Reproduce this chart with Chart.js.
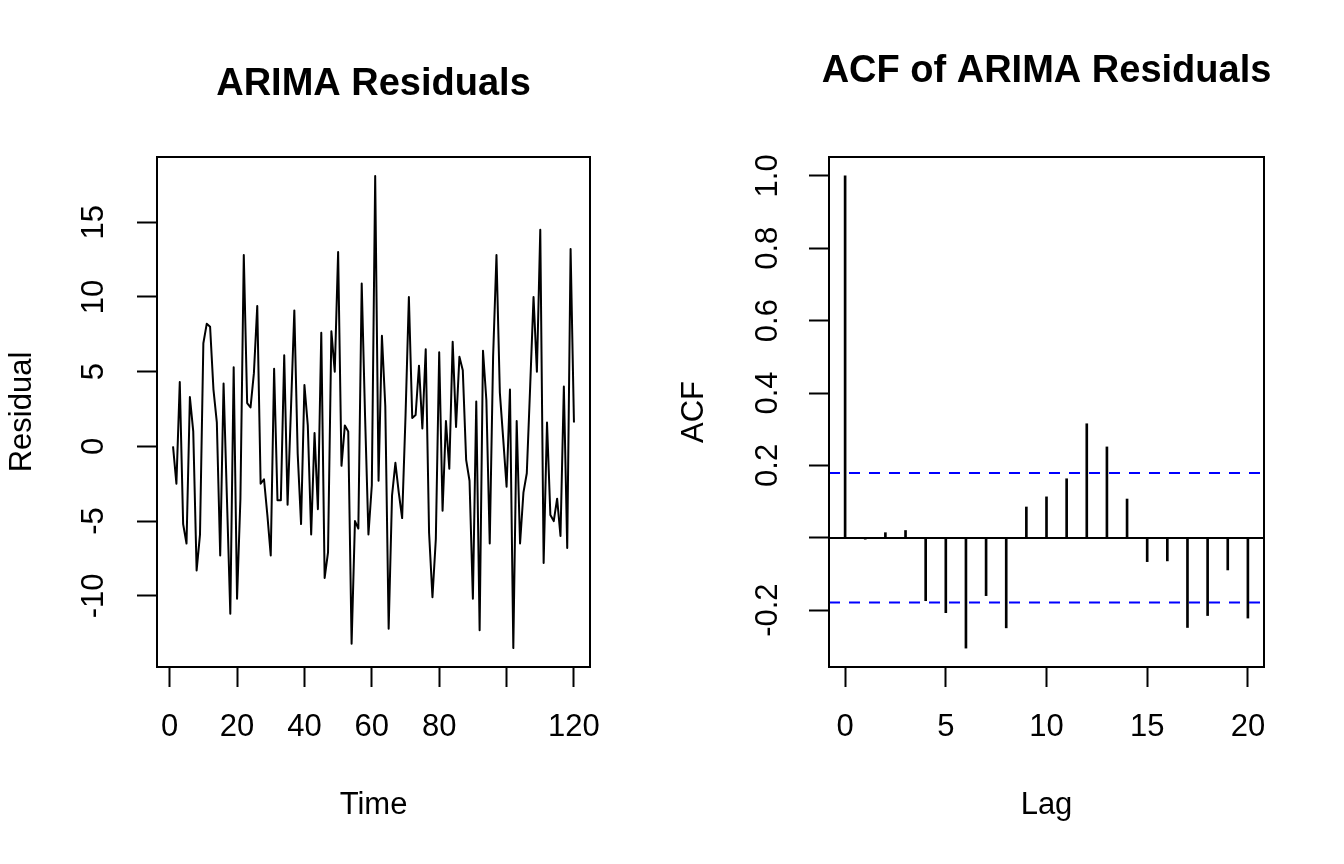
<!DOCTYPE html>
<html>
<head>
<meta charset="utf-8">
<title>ARIMA Residuals</title>
<script src="https://cdn.jsdelivr.net/npm/chart.js@4.4.1/dist/chart.umd.min.js"></script>
<style>
  html, body { margin: 0; padding: 0; background: #fff; }
  .panel { position: absolute; top: 0; width: 672px; height: 864px; }
  #left { left: 0; }
  #right { left: 672px; }
</style>
</head>
<body>
<div class="panel" id="left"><canvas id="residPlot" width="672" height="864"></canvas></div>
<div class="panel" id="right"><canvas id="acfPlot" width="672" height="864"></canvas></div>
<script>
// residuals, t = 1..120
const residuals = [
   0.0, -2.5,  4.3, -5.2, -6.5,  3.3,  1.0, -8.3, -5.9,  6.9,
   8.2,  8.0,  3.8,  1.6, -7.3,  4.2, -3.5,-11.2,  5.3,-10.2,
  -3.5, 12.8,  2.9,  2.6,  4.9,  9.4, -2.5, -2.2, -4.6, -7.3,
   5.2, -3.6, -3.6,  6.1, -3.9,  2.5,  9.1, -0.5, -5.2,  4.1,
   1.4, -5.9,  0.9, -4.2,  7.6, -8.8, -7.1,  7.7,  5.0, 13.0,
  -1.3,  1.4,  1.0,-13.2, -5.0, -5.5, 10.9,  2.0, -5.9, -2.6,
  18.1, -2.3,  7.4,  2.7,-12.2, -3.3, -1.1, -3.1, -4.8,  2.0,
  10.0,  1.9,  2.1,  5.4,  1.2,  6.5, -5.8,-10.1, -6.2,  6.3,
  -4.3,  1.7, -1.5,  7.0,  1.3,  6.0,  5.1, -0.9, -2.3,-10.2,
   3.0,-12.3,  6.4,  3.1, -6.5,  6.0, 12.8,  3.6,  0.5, -2.7,
   3.8,-13.5,  1.7, -6.5, -3.1, -1.8,  4.0, 10.0,  5.0, 14.5,
  -7.8,  1.6, -4.6, -5.0, -3.5, -6.0,  4.0, -6.8, 13.2,  1.6
];
const timeIndex = residuals.map((_, i) => i + 1);

const acfLags = [0, 1, 2, 3, 4, 5, 6, 7, 8, 9, 10, 11, 12, 13, 14, 15, 16, 17, 18, 19, 20];
const acfValues = [
  1.000, -0.004, 0.014, 0.020, -0.174, -0.207, -0.305, -0.160, -0.249, 0.085,
  0.113, 0.163, 0.315, 0.251, 0.107, -0.066, -0.064, -0.248, -0.215, -0.089, -0.222
];
const ciLevel = 0.179;

const timeTicks = [0, 20, 40, 60, 80, 100, 120];
const residTicks = [-10, -5, 0, 5, 10, 15];
const lagTicks = [0, 5, 10, 15, 20];
const acfTicks = [-0.2, 0, 0.2, 0.4, 0.6, 0.8, 1.0];

// R pads the data range by 4% on each side
function rRange(lo, hi) {
  const d = (hi - lo) * 0.04;
  return [lo - d, hi + d];
}

const FONT = '"Liberation Sans", Arial, Helvetica, sans-serif';
Chart.defaults.font.family = FONT;
Chart.defaults.color = '#000';

// box round the plot region, main title, optional zero line
const rFrame = {
  id: 'rFrame',
  afterDraw(chart, args, opts) {
    const { ctx, chartArea: a } = chart;
    ctx.save();
    ctx.strokeStyle = '#000';
    ctx.lineWidth = 2;
    if (opts.zeroLine) {
      const y0 = Math.round(chart.scales.y.getPixelForValue(0));
      ctx.beginPath();
      ctx.moveTo(a.left, y0);
      ctx.lineTo(a.right, y0);
      ctx.stroke();
    }
    ctx.strokeRect(a.left, a.top, a.right - a.left, a.bottom - a.top);
    ctx.fillStyle = '#000';
    ctx.font = 'bold 38px ' + FONT;
    ctx.textAlign = 'center';
    ctx.textBaseline = 'alphabetic';
    ctx.fillText(opts.title, (a.left + a.right) / 2, opts.baseline);
    ctx.restore();
  }
};

function xAxis(range, ticks, label, hide) {
  return {
    type: 'linear',
    min: range[0],
    max: range[1],
    offset: false,
    afterBuildTicks: s => { s.ticks = ticks.map(v => ({ value: v })); },
    afterFit: s => { s.height = 197; },
    grid: { display: true, offset: false, drawOnChartArea: false, drawTicks: true, tickLength: 20, tickWidth: 2, tickColor: '#000' },
    border: { display: false },
    ticks: {
      autoSkip: false, maxRotation: 0, padding: 22,
      font: { size: 31 },
      callback: v => (hide.includes(v) ? '' : String(v))
    },
    title: { display: true, text: label, font: { size: 31 }, padding: { top: 0, bottom: 40 } }
  };
}

function yAxis(range, ticks, label, fmt, pad) {
  return {
    type: 'linear',
    min: range[0],
    max: range[1],
    afterBuildTicks: s => { s.ticks = ticks.map(v => ({ value: v })); },
    afterFit: s => { s.width = 157; },
    grid: { display: true, drawOnChartArea: false, drawTicks: true, tickLength: 20, tickWidth: 2, tickColor: '#000' },
    border: { display: false },
    ticks: {
      autoSkip: false, minRotation: 90, maxRotation: 90, crossAlign: 'center', padding: pad,
      font: { size: 31 },
      callback: fmt
    },
    title: { display: true, text: label, font: { size: 31 }, padding: { top: 4, bottom: 0 } }
  };
}

const residX = rRange(Math.min(...timeIndex), Math.max(...timeIndex));
const residY = rRange(Math.min(...residuals), Math.max(...residuals));

new Chart(document.getElementById('residPlot'), {
  type: 'line',
  data: {
    datasets: [{
      data: residuals.map((r, i) => ({ x: timeIndex[i], y: r })),
      borderColor: '#000',
      borderWidth: 2,
      pointRadius: 0,
      tension: 0,
      borderJoinStyle: 'round',
      fill: false
    }]
  },
  options: {
    responsive: false,
    animation: false,
    layout: { padding: { top: 157, right: 82, bottom: 0, left: 0 } },
    plugins: {
      legend: { display: false },
      tooltip: { enabled: false },
      rFrame: { title: 'ARIMA Residuals', baseline: 95 }
    },
    scales: {
      x: xAxis(residX, timeTicks, 'Time', [100]),
      y: yAxis(residY, residTicks, 'Residual', v => String(v), 20)
    }
  },
  plugins: [rFrame]
});

const acfX = rRange(Math.min(...acfLags), Math.max(...acfLags));
const acfY = rRange(Math.min(...acfValues, -ciLevel), Math.max(...acfValues, ciLevel));

new Chart(document.getElementById('acfPlot'), {
  type: 'bar',
  data: {
    datasets: [
      {
        type: 'bar',
        order: 2,
        data: acfLags.map((l, i) => ({ x: l, y: acfValues[i] })),
        backgroundColor: '#000',
        borderWidth: 0,
        barThickness: 2,
        grouped: false
      },
      {
        type: 'line',
        order: 1,
        data: [{ x: acfX[0], y: ciLevel }, { x: acfX[1], y: ciLevel }],
        borderColor: '#0000FF',
        borderWidth: 2,
        borderDash: [11, 9],
        pointRadius: 0
      },
      {
        type: 'line',
        order: 1,
        data: [{ x: acfX[0], y: -ciLevel }, { x: acfX[1], y: -ciLevel }],
        borderColor: '#0000FF',
        borderWidth: 2,
        borderDash: [11, 9],
        pointRadius: 0
      }
    ]
  },
  options: {
    responsive: false,
    animation: false,
    layout: { padding: { top: 157, right: 80, bottom: 0, left: 0 } },
    plugins: {
      legend: { display: false },
      tooltip: { enabled: false },
      rFrame: { title: 'ACF of ARIMA Residuals', baseline: 82, zeroLine: true }
    },
    scales: {
      x: xAxis(acfX, lagTicks, 'Lag', []),
      y: yAxis(acfY, acfTicks, 'ACF', v => (v === 0 ? '' : v.toFixed(1)), 14)
    }
  },
  plugins: [rFrame]
});
</script>
</body>
</html>
